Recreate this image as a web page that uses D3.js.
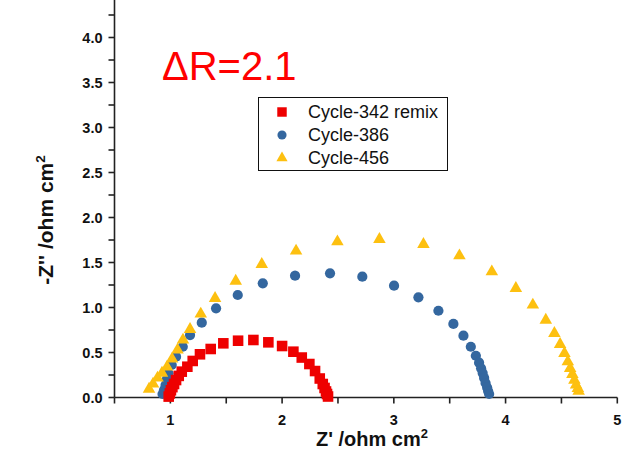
<!DOCTYPE html>
<html>
<head>
<meta charset="utf-8">
<script src="https://cdn.jsdelivr.net/npm/d3@7"></script>
<style>
  html, body { margin: 0; padding: 0; background: #fff; }
  svg { display: block; }
  text { font-family: "Liberation Sans", Arial, sans-serif; }
</style>
</head>
<body>
<svg id="chart" width="634" height="469"></svg>
<script>
// Nyquist data (Z' , -Z'') for three cycles
const seriesNames = ["Cycle-342 remix", "Cycle-386", "Cycle-456"];
const seriesColors = ["#ee0000", "#34679f", "#fdc010"];

const cycle342x = [0.985, 0.995, 1.005, 1.018, 1.033, 1.051, 1.075, 1.102, 1.152, 1.200, 1.265, 1.361, 1.474, 1.606, 1.743, 1.877, 2.000, 2.101, 2.176, 2.244, 2.295, 2.337, 2.364, 2.380, 2.393, 2.402, 2.411];
const cycle342y = [0.010, 0.045, 0.080, 0.115, 0.150, 0.194, 0.240, 0.287, 0.342, 0.406, 0.480, 0.539, 0.602, 0.631, 0.639, 0.613, 0.572, 0.509, 0.444, 0.372, 0.294, 0.211, 0.150, 0.106, 0.067, 0.039, 0.011];

const cycle386x = [0.930, 0.943, 0.957, 0.970, 0.983, 1.012, 1.051, 1.111, 1.176, 1.281, 1.409, 1.603, 1.827, 2.116, 2.429, 2.718, 3.002, 3.220, 3.399, 3.533, 3.623, 3.689, 3.734, 3.763, 3.781, 3.795, 3.808, 3.821, 3.835, 3.844, 3.853];
const cycle386y = [0.039, 0.083, 0.139, 0.206, 0.269, 0.361, 0.453, 0.564, 0.694, 0.831, 0.991, 1.139, 1.269, 1.353, 1.380, 1.342, 1.242, 1.113, 0.964, 0.817, 0.687, 0.564, 0.464, 0.387, 0.324, 0.272, 0.217, 0.161, 0.111, 0.072, 0.039];

const cycle456x = [0.809, 0.845, 0.885, 0.925, 0.970, 1.015, 1.064, 1.113, 1.176, 1.272, 1.400, 1.585, 1.818, 2.125, 2.495, 2.871, 3.265, 3.587, 3.877, 4.092, 4.244, 4.360, 4.437, 4.488, 4.527, 4.557, 4.578, 4.598, 4.616, 4.631, 4.647, 4.654];
const cycle456y = [0.094, 0.150, 0.217, 0.272, 0.339, 0.428, 0.528, 0.639, 0.758, 0.928, 1.102, 1.294, 1.480, 1.628, 1.731, 1.758, 1.702, 1.576, 1.398, 1.213, 1.028, 0.861, 0.713, 0.591, 0.491, 0.398, 0.324, 0.258, 0.194, 0.139, 0.102, 0.072];

const xTickValues = [1, 2, 3, 4, 5];
const xMinorValues = [0.5, 1.5, 2.5, 3.5, 4.5];
const yTickValues = [0.0, 0.5, 1.0, 1.5, 2.0, 2.5, 3.0, 3.5, 4.0];
const yMinorValues = [0.25, 0.75, 1.25, 1.75, 2.25, 2.75, 3.25, 3.75, 4.25];

const annotation = "ΔR=2.1";

const svg = d3.select("#chart");

const x = d3.scaleLinear().domain([0.5, 5]).range([114.5, 617.3]);
const y = d3.scaleLinear().domain([0, 4]).range([397.5, 37.5]);
const yTop = y.invert(0);

const axisColor = "#222";

// X axis
const xAxisG = svg.append("g").attr("transform", `translate(0,${y(0)})`);
xAxisG.append("line")
  .attr("x1", x(0.5)).attr("x2", x(5))
  .attr("stroke", axisColor).attr("stroke-width", 1.6);
xAxisG.selectAll("line.tick").data(xTickValues.concat(xMinorValues)).join("line")
  .attr("class", "tick")
  .attr("x1", d => x(d)).attr("x2", d => x(d))
  .attr("y1", 0).attr("y2", 6)
  .attr("stroke", axisColor).attr("stroke-width", 1.6);
xAxisG.selectAll("text").data(xTickValues).join("text")
  .attr("x", d => x(d)).attr("y", 27)
  .attr("text-anchor", "middle")
  .attr("font-size", 14.5).attr("font-weight", "bold").attr("fill", "#111")
  .text(d => d3.format("d")(d));

// Y axis
const yAxisG = svg.append("g").attr("transform", `translate(${x(0.5)},0)`);
yAxisG.append("line")
  .attr("y1", y(yTop)).attr("y2", y(0))
  .attr("stroke", axisColor).attr("stroke-width", 1.6);
yAxisG.selectAll("line.tick").data(yTickValues.concat(yMinorValues)).join("line")
  .attr("class", "tick")
  .attr("y1", d => y(d)).attr("y2", d => y(d))
  .attr("x1", 0).attr("x2", -6)
  .attr("stroke", axisColor).attr("stroke-width", 1.6);
yAxisG.selectAll("text").data(yTickValues).join("text")
  .attr("x", -12).attr("y", d => y(d))
  .attr("dy", "0.36em")
  .attr("text-anchor", "end")
  .attr("font-size", 14.5).attr("font-weight", "bold").attr("fill", "#111")
  .text(d => d3.format(".1f")(d));

// Axis titles
const xTitle = svg.append("text")
  .attr("x", 372).attr("y", 446)
  .attr("text-anchor", "middle")
  .attr("font-size", 20).attr("font-weight", "bold").attr("fill", "#111");
xTitle.append("tspan").text("Z' /ohm cm");
xTitle.append("tspan").attr("dy", -8).attr("font-size", 13).text("2");

const yTitle = svg.append("text")
  .attr("transform", "translate(53,220) rotate(-90)")
  .attr("text-anchor", "middle")
  .attr("font-size", 21).attr("font-weight", "bold").attr("fill", "#111");
yTitle.append("tspan").text("-Z'' /ohm cm");
yTitle.append("tspan").attr("dy", -8).attr("font-size", 13.5).text("2");

// Markers
const symbols = [d3.symbolSquare, d3.symbolCircle, d3.symbolTriangle];
const symbolSizes = [112, 82, 68];
const series = [
  { xs: cycle342x, ys: cycle342y },
  { xs: cycle386x, ys: cycle386y },
  { xs: cycle456x, ys: cycle456y }
];
const drawOrder = [1, 2, 0];
drawOrder.forEach(i => {
  const pts = series[i].xs.map((v, k) => [v, series[i].ys[k]]);
  const gen = d3.symbol().type(symbols[i]).size(symbolSizes[i]);
  svg.append("g").selectAll("path").data(pts).join("path")
    .attr("transform", d => `translate(${x(d[0])},${y(d[1])})`)
    .attr("d", gen)
    .attr("fill", seriesColors[i]);
});

// Annotation
svg.append("text")
  .attr("x", 162).attr("y", 80)
  .attr("font-size", 40).attr("fill", "#ff0000")
  .text(annotation);

// Legend
const legend = svg.append("g");
legend.append("rect")
  .attr("x", 258.5).attr("y", 97.5).attr("width", 189).attr("height", 73)
  .attr("fill", "#fff").attr("stroke", "#111").attr("stroke-width", 1);
const rowY = [112, 135, 158];
seriesNames.forEach((name, i) => {
  legend.append("path")
    .attr("transform", `translate(282,${rowY[i]})`)
    .attr("d", d3.symbol().type(symbols[i]).size(symbolSizes[i] * 0.8)())
    .attr("fill", seriesColors[i]);
  legend.append("text")
    .attr("x", 308).attr("y", rowY[i]).attr("dy", "0.36em")
    .attr("font-size", 18).attr("fill", "#111")
    .text(name);
});
</script>
</body>
</html>
